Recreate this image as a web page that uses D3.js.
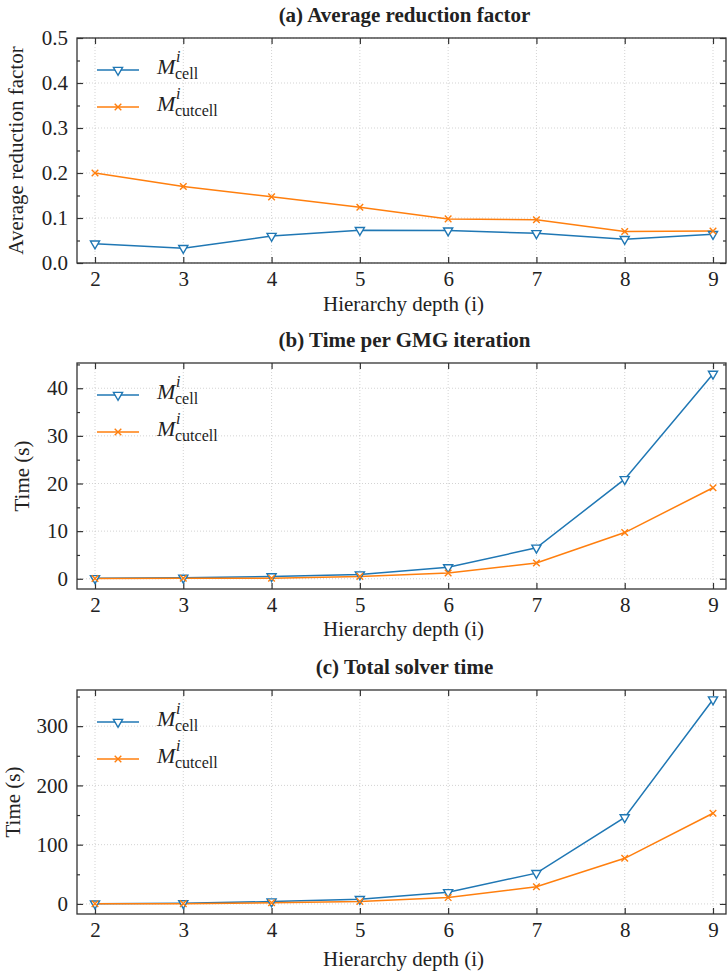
<!DOCTYPE html>
<html><head><meta charset="utf-8">
<script src="https://cdn.jsdelivr.net/npm/d3@7"></script>
</head><body style="margin:0;background:#fff"><svg id="c" width="727" height="976" style="display:block"></svg>
<script>
const depths = [2,3,4,5,6,7,8,9];
const reductionCell    = [0.043,0.033,0.060,0.073,0.072,0.066,0.053,0.064];
const reductionCutcell = [0.200,0.170,0.147,0.124,0.098,0.096,0.070,0.071];
const iterCell    = [0.1,0.2,0.5,0.9,2.4,6.5,20.9,43.0];
const iterCutcell = [0.05,0.1,0.1,0.5,1.2,3.3,9.7,19.1];
const totalCell    = [0.5,1.0,4.0,8.0,19.7,52,146,345];
const totalCutcell = [0.2,0.5,2.0,4.0,10.7,29,77,153];
const titles = ["(a) Average reduction factor","(b) Time per GMG iteration","(c) Total solver time"];
const yLabels = ["Average reduction factor","Time (s)","Time (s)"];
const xLabel = "Hierarchy depth (i)";
const yTicksA = [0,0.1,0.2,0.3,0.4,0.5];
const yTicksB = [0,10,20,30,40];
const yTicksC = [0,100,200,300];
const blue = "#1f77b4", orange = "#ff7f0e";
const FONT = '"Liberation Serif", "Times New Roman", Tinos, monospace';

const svg = d3.select("#c");
const L = 77, R = 726;
const x = d3.scaleLinear().domain([2,9]).range([95,713]);

const panels = [
  {top:38,bottom:263,dom:[0,0.5],ticks:yTicksA,minor:0.05,fmt:d3.format(".1f"),cell:reductionCell,cut:reductionCutcell,ylx:22.5,xlb:311},
  {top:363,bottom:589,dom:[-2.15,45.3],ticks:yTicksB,minor:5,fmt:d3.format("d"),cell:iterCell,cut:iterCutcell,ylx:29,xlb:636},
  {top:690,bottom:914,dom:[-17.0,361],ticks:yTicksC,minor:50,fmt:d3.format("d"),cell:totalCell,cut:totalCutcell,ylx:19.5,xlb:966}
];

function txt(sel){ return sel.style("font-family",FONT).attr("fill","#222"); }

panels.forEach((p,i)=>{
  const y = d3.scaleLinear().domain(p.dom).range([p.bottom,p.top]);
  const g = svg.append("g");
  g.selectAll(".gx").data(depths).join("line")
    .attr("x1",d=>x(d)).attr("x2",d=>x(d)).attr("y1",p.top).attr("y2",p.bottom)
    .attr("stroke","#c8c8c8").attr("stroke-width",0.8).attr("stroke-dasharray","1,2");
  g.selectAll(".gy").data(p.ticks).join("line")
    .attr("x1",L).attr("x2",R).attr("y1",d=>y(d)).attr("y2",d=>y(d))
    .attr("stroke","#c8c8c8").attr("stroke-width",0.8).attr("stroke-dasharray","1,2");
  const minors = d3.range(Math.ceil(p.dom[0]/p.minor)*p.minor, p.dom[1], p.minor)
     .filter(v=>!p.ticks.some(t=>Math.abs(t-v)<1e-9));
  const axL = d3.axisLeft(y).tickValues(p.ticks).tickFormat(p.fmt).tickSizeInner(-6).tickSizeOuter(0).tickPadding(9);
  const axR = d3.axisRight(y).tickValues(p.ticks).tickFormat("").tickSizeInner(-6).tickSizeOuter(0);
  const axB = d3.axisBottom(x).tickValues(depths).tickFormat(d3.format("d")).tickSizeInner(-6).tickSizeOuter(0).tickPadding(8);
  const axT = d3.axisTop(x).tickValues(depths).tickFormat("").tickSizeInner(-6).tickSizeOuter(0);
  const mL = d3.axisLeft(y).tickValues(minors).tickFormat("").tickSizeInner(-3).tickSizeOuter(0);
  const mR = d3.axisRight(y).tickValues(minors).tickFormat("").tickSizeInner(-3).tickSizeOuter(0);
  const style = sel => { sel.attr("font-family",null); sel.selectAll("path").remove(); sel.selectAll("line").attr("stroke","#333").attr("stroke-width",1.2);
    sel.selectAll("text").attr("font-size",21).call(txt); };
  g.append("g").attr("transform",`translate(${L},0)`).call(axL).call(style);
  g.append("g").attr("transform",`translate(${L},0)`).call(mL).call(style);
  g.append("g").attr("transform",`translate(${R},0)`).call(axR).call(style);
  g.append("g").attr("transform",`translate(${R},0)`).call(mR).call(style);
  g.append("g").attr("transform",`translate(0,${p.bottom})`).call(axB).call(style);
  g.append("g").attr("transform",`translate(0,${p.top})`).call(axT).call(style);
  g.append("rect").attr("x",L).attr("y",p.top).attr("width",R-L).attr("height",p.bottom-p.top)
    .attr("fill","none").attr("stroke","#333").attr("stroke-width",1.3);
  const line = d3.line().x((d,j)=>x(depths[j])).y(d=>y(d));
  g.append("path").datum(p.cell).attr("d",line).attr("fill","none").attr("stroke",blue).attr("stroke-width",1.5);
  g.append("path").datum(p.cut).attr("d",line).attr("fill","none").attr("stroke",orange).attr("stroke-width",1.5);
  const tri = d3.symbol().type(d3.symbolTriangle).size(36);
  g.selectAll(".mc").data(p.cell).join("path").attr("d",tri)
    .attr("transform",(d,j)=>`translate(${x(depths[j])},${y(d)}) rotate(180)`)
    .attr("fill","#fff").attr("stroke",blue).attr("stroke-width",1.4);
  const cross = d3.symbol().type(d3.symbolX).size(30);
  g.selectAll(".mx").data(p.cut).join("path").attr("d",cross)
    .attr("transform",(d,j)=>`translate(${x(depths[j])},${y(d)})`)
    .attr("fill","none").attr("stroke",orange).attr("stroke-width",1.4);
  svg.append("text").attr("x",(L+R)/2+3).attr("y",p.top-16.5).attr("text-anchor","middle")
    .attr("font-size",21).attr("font-weight","bold").call(txt).text(titles[i]);
  svg.append("text").attr("x",(L+R)/2+2).attr("y",p.xlb).attr("text-anchor","middle")
    .attr("font-size",21).call(txt).text(xLabel);
  svg.append("text").attr("transform",`translate(${p.ylx},${(p.top+p.bottom)/2}) rotate(-90)`)
    .attr("text-anchor","middle").attr("font-size",21).call(txt).text(yLabels[i]);
  const leg = [{c:blue,sub:"cell",m:"tri"},{c:orange,sub:"cutcell",m:"x"}];
  leg.forEach((l,k)=>{
    const ly = p.top + 32 + k*37;
    g.append("line").attr("x1",97).attr("x2",139).attr("y1",ly).attr("y2",ly).attr("stroke",l.c).attr("stroke-width",1.5);
    if(l.m==="tri") g.append("path").attr("d",tri).attr("transform",`translate(118,${ly}) rotate(180)`).attr("fill","#fff").attr("stroke",l.c).attr("stroke-width",1.4);
    else g.append("path").attr("d",cross).attr("transform",`translate(118,${ly})`).attr("fill","none").attr("stroke",l.c).attr("stroke-width",1.4);
    g.append("text").attr("x",157).attr("y",ly+4).attr("font-size",22).attr("font-style","italic").call(txt).text("M");
    g.append("text").attr("x",176).attr("y",ly-8).attr("font-size",16).attr("font-style","italic").call(txt).text("i");
    g.append("text").attr("x",175).attr("y",ly+9).attr("font-size",16).call(txt).text(l.sub);
  });
});
</script></body></html>
